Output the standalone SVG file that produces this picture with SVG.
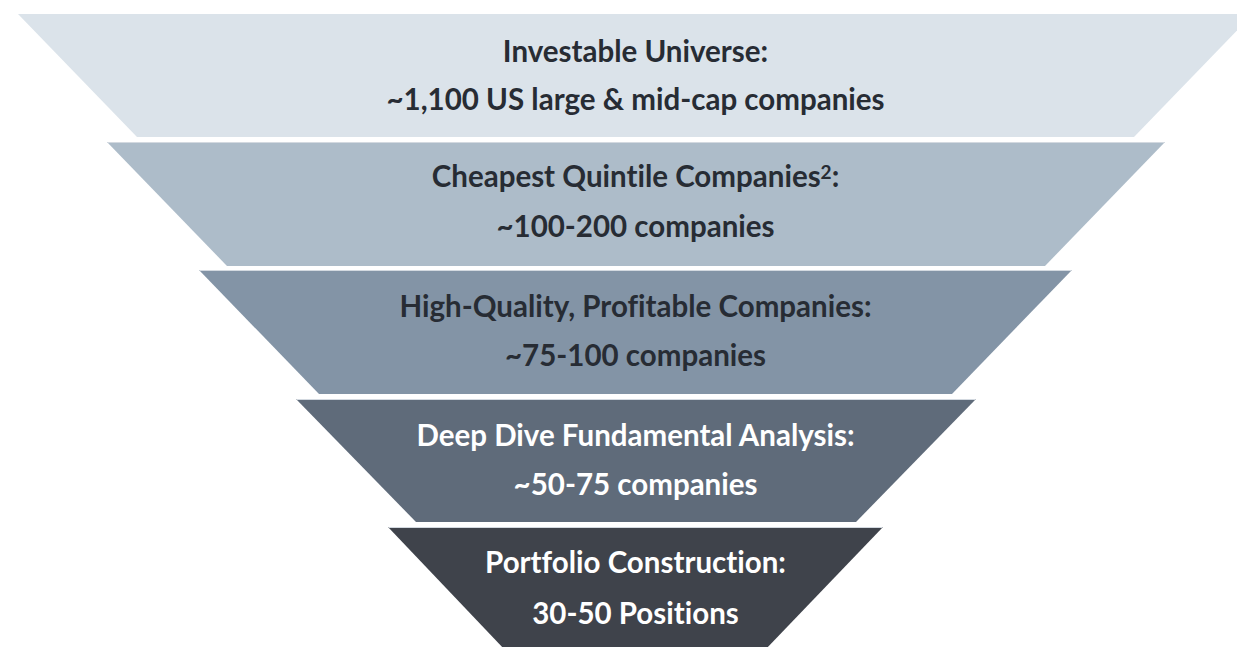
<svg xmlns="http://www.w3.org/2000/svg" width="1237" height="647" viewBox="0 0 1237 647">
  <style>
    .lbl { font-family: Lato, "Open Sans", "Liberation Sans", sans-serif; font-weight: 700; font-size: 29.5px; text-anchor: middle; font-variant-ligatures: none; font-feature-settings: "liga" 0, "dlig" 0; }
    .dark { fill: #272C34; }
    .light { fill: #FFFFFF; }
    .edge { stroke: #D3D9E0; stroke-width: 1.2; fill: none; }
  </style>
  <rect width="1237" height="647" fill="#FFFFFF"/>
  <g id="layer1">
    <polygon points="18,14 1253,14 1134,137 137,137" fill="#DBE3EA"/>
    <text class="lbl dark" x="635.5" y="62">Investable Universe:</text>
    <text class="lbl dark" x="635.5" y="110">~1,100 US large &amp; mid-cap companies</text>
  </g>
  <g id="layer2">
    <polygon points="107,142 1165,142 1045,266 227,266" fill="#ADBCC9"/>
    <line class="edge" x1="107.5" y1="142.5" x2="1164.5" y2="142.5"/>
    <text class="lbl dark" x="635.5" y="187">Cheapest Quintile Companies<tspan font-size="19" dy="-8">2</tspan><tspan dy="8">:</tspan></text>
    <text class="lbl dark" x="635.5" y="237">~100-200 companies</text>
  </g>
  <g id="layer3">
    <polygon points="199,270 1072,270 952,394 319,394" fill="#8394A6"/>
    <line class="edge" x1="199.5" y1="270.5" x2="1071.5" y2="270.5"/>
    <text class="lbl dark" x="635.5" y="317">High-Quality, Profitable Companies:</text>
    <text class="lbl dark" x="635.5" y="366">~75-100 companies</text>
  </g>
  <g id="layer4">
    <polygon points="296,399 976,399 856,522 416,522" fill="#5F6B7A"/>
    <line class="edge" x1="296.5" y1="399.5" x2="975.5" y2="399.5"/>
    <text class="lbl light" x="635.5" y="446">Deep Dive Fundamental Analysis:</text>
    <text class="lbl light" x="635.5" y="495">~50-75 companies</text>
  </g>
  <g id="layer5">
    <polygon points="388,527 883,527 765,650 505,650" fill="#3F434B"/>
    <line class="edge" x1="388.5" y1="527.5" x2="882.5" y2="527.5"/>
    <text class="lbl light" x="635.5" y="573">Portfolio Construction:</text>
    <text class="lbl light" x="635.5" y="624">30-50 Positions</text>
  </g>
  <g id="connectors"/>
</svg>
